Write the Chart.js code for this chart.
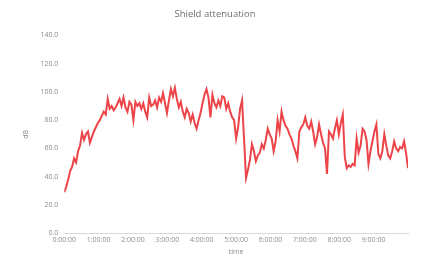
<!DOCTYPE html>
<html>
<head>
<meta charset="utf-8">
<script src="https://cdn.jsdelivr.net/npm/chart.js@4"></script>
<style>
  html, body { margin: 0; padding: 0; background: #fff; }
  #wrap { width: 438px; height: 264px; }
</style>
</head>
<body>
<div id="wrap"><canvas id="myChart" width="438" height="264"></canvas></div>
<script>
// attenuation in dB, one sample every 200 s
var attenuation = [
  29, 33, 38, 44, 47, 53, 50, 58, 62, 71,
  66, 70, 72, 64, 68, 72, 75, 78, 80, 83,
  86, 84, 95, 88, 90, 87, 89, 92, 95, 90,
  96, 89, 86, 93, 91, 80, 93, 90, 92, 88,
  92, 86, 82, 96, 90, 91, 94, 89, 96, 93,
  99, 92, 85, 94, 102, 97, 103, 95, 89, 93,
  86, 82, 88, 85, 79, 84, 78, 74, 80, 85,
  92, 98, 102, 96, 82, 98, 92, 89, 94, 90,
  97, 96, 88, 92, 86, 82, 80, 67, 75, 88,
  94, 67, 39, 45, 52, 63, 58, 51, 55, 57,
  63, 60, 66, 74, 70, 67, 58, 65, 80, 72,
  86, 80, 76, 74, 70, 67, 62, 58, 53, 72,
  75, 77, 82, 76, 74, 79, 72, 63, 68, 77,
  70, 64, 60, 42, 72, 70, 67, 74, 80, 70,
  78, 84, 54, 46, 48, 47, 49, 48, 67, 57,
  62, 74, 72, 66, 49, 58, 65, 72, 77, 56,
  53, 58, 70, 62, 55, 53, 58, 65, 60, 58,
  61, 60, 65, 57, 46
];
var sampleStep = 200;
var timeLabels = ["0:00:00", "1:00:00", "2:00:00", "3:00:00", "4:00:00",
                  "5:00:00", "6:00:00", "7:00:00", "8:00:00", "9:00:00"];
var dbTicks = [0, 20, 40, 60, 80, 100, 120, 140];

var points = attenuation.map((v, i) => ({ x: i * sampleStep, y: v }));

const ctx = document.getElementById('myChart').getContext('2d');
const myChart = new Chart(ctx, {
    type: 'line',
    data: {
        datasets: [{
            label: 'Attenuation',
            data: points,
            borderColor: 'rgba(236, 68, 72, 1)',
            borderWidth: 2,
            pointRadius: 0,
            tension: 0
        }]
    },
    options: {
        responsive: false,
        animation: false,
        layout: { padding: { left: 22, right: 30, top: 5, bottom: 8 } },
        scales: {
            x: {
                type: 'linear',
                min: 0,
                max: (attenuation.length - 1) * sampleStep,
                grid: { display: false, drawTicks: false },
                border: { color: '#d9d9d9' },
                ticks: {
                    stepSize: 3600,
                    maxRotation: 0,
                    color: '#8c8c8c',
                    padding: 3,
                    font: { size: 7, family: 'Open Sans' },
                    callback: (v) => timeLabels[Math.round(v / 3600)]
                },
                title: {
                    display: true,
                    text: 'time',
                    color: '#8c8c8c',
                    padding: { top: 0, bottom: 0 },
                    font: { size: 7, family: 'Open Sans' }
                }
            },
            y: {
                min: dbTicks[0],
                max: dbTicks[dbTicks.length - 1],
                grid: { display: false, drawTicks: false },
                border: { display: false },
                afterBuildTicks: (s) => { s.ticks = dbTicks.map(v => ({ value: v })); },
                ticks: {
                    color: '#8c8c8c',
                    padding: 6,
                    font: { size: 7, family: 'Open Sans' },
                    callback: (v) => v.toFixed(1)
                },
                title: {
                    display: true,
                    text: 'dB',
                    color: '#8c8c8c',
                    padding: { top: 0, bottom: 4 },
                    font: { size: 7, family: 'Open Sans' }
                }
            }
        },
        plugins: {
            legend: { display: false },
            tooltip: { enabled: false },
            title: {
                display: true,
                text: 'Shield attenuation',
                color: '#6e6e6e',
                padding: { top: 4, bottom: 15 },
                font: { size: 9.5, weight: 'normal', family: 'Open Sans' }
            }
        }
    }
});
</script>
</body>
</html>
